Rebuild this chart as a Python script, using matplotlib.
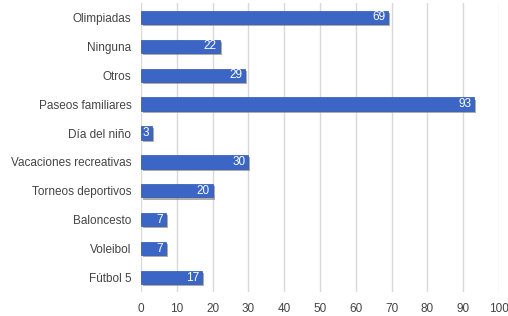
import matplotlib
matplotlib.use('Agg')
from matplotlib import pyplot as plt
import matplotlib.patheffects as pe

categories = ['Olimpiadas', 'Ninguna', 'Otros', 'Paseos familiares', 'Día del niño',
              'Vacaciones recreativas', 'Torneos deportivos', 'Baloncesto', 'Voleibol', 'Fútbol 5']
values = [69, 22, 29, 93, 3, 30, 20, 7, 7, 17]
xticks = [0, 10, 20, 30, 40, 50, 60, 70, 80, 90, 100]

plt.rcParams['font.family'] = ['Liberation Sans', 'DejaVu Sans']

fig = plt.figure(figsize=(5.08, 3.16), dpi=100)
ax = fig.add_axes([0.2776, 0.076, 0.7046, 0.9145])

ypos = list(range(len(categories)))
bars = ax.barh(ypos, values, height=0.46, color='#3b66c6', edgecolor='#2d55ad', linewidth=0.5, zorder=3)
for b in bars:
    b.set_path_effects([pe.SimplePatchShadow(offset=(1.5, -1.5), shadow_rgbFace='#777777', alpha=0.6), pe.Normal()])

for y, v in zip(ypos, values):
    ax.text(v - 0.8, y, str(v), ha='right', va='center', color='white', fontsize=8.5, zorder=4)

ax.set_yticks(ypos)
ax.set_yticklabels(categories)
ax.set_ylim(len(categories) - 0.5, -0.5)
ax.set_xlim(0, 100)
ax.set_xticks(xticks)
ax.tick_params(axis='both', length=0, labelsize=8.5, colors='#444444')
ax.tick_params(axis='y', pad=7)
ax.tick_params(axis='x', pad=8)
ax.xaxis.grid(True, color='#d9d9d9', linewidth=1, zorder=0)
for s in ax.spines.values():
    s.set_visible(False)

plt.savefig('out.png', dpi=100)
